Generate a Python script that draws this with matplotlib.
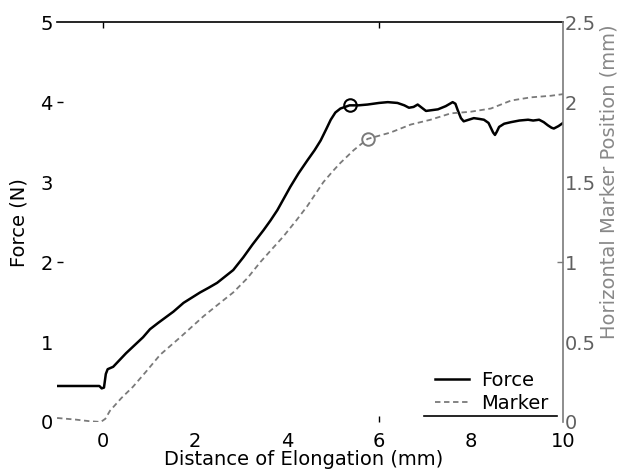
import matplotlib
matplotlib.use("Agg")
import matplotlib.pyplot as plt
import numpy as np

plt.rcParams['font.family'] = ['DejaVu Sans']

# ---- data ----
force_x = [-1.0, -0.3, -0.08, -0.03, 0.02, 0.06, 0.10, 0.22, 0.5, 0.87, 1.02, 1.2, 1.53, 1.75,
           2.11, 2.3, 2.48, 2.83, 3.05, 3.25, 3.49, 3.64, 3.79, 4.07, 4.25, 4.44, 4.6, 4.73,
           4.85, 4.95, 5.05, 5.16, 5.36, 5.55, 5.75, 6.0, 6.19, 6.4, 6.55, 6.65, 6.75, 6.84,
           6.93, 7.02, 7.15, 7.28, 7.45, 7.6, 7.66, 7.71, 7.78, 7.84, 7.95, 8.06, 8.18, 8.28,
           8.38, 8.43, 8.48, 8.52, 8.56, 8.61, 8.72, 8.87, 9.05, 9.24, 9.35, 9.48, 9.58, 9.67,
           9.75, 9.8, 9.9, 10.0]
force_y = [0.45, 0.45, 0.45, 0.42, 0.43, 0.60, 0.66, 0.69, 0.86, 1.06, 1.16, 1.24, 1.38, 1.49,
           1.62, 1.68, 1.74, 1.90, 2.06, 2.22, 2.40, 2.52, 2.65, 2.94, 3.11, 3.27, 3.40, 3.52,
           3.66, 3.78, 3.87, 3.92, 3.96, 3.96, 3.97, 3.99, 4.00, 3.99, 3.96, 3.93, 3.94, 3.97,
           3.93, 3.89, 3.90, 3.91, 3.95, 4.00, 3.98, 3.90, 3.80, 3.76, 3.78, 3.80, 3.79, 3.78,
           3.74, 3.68, 3.62, 3.59, 3.63, 3.69, 3.73, 3.75, 3.77, 3.78, 3.77, 3.78, 3.75, 3.71,
           3.68, 3.67, 3.70, 3.74]

marker_x = [-1.0, -0.6, -0.3, -0.05, 0.05, 0.15, 0.4, 0.65, 0.95, 1.24, 1.68, 2.18, 2.48,
            2.83, 3.14, 3.42, 3.70, 3.92, 4.2, 4.44, 4.79, 5.0, 5.16, 5.45, 5.75, 6.0, 6.25,
            6.69, 7.12, 7.56, 7.99, 8.43, 8.87, 9.3, 9.74, 10.0]
marker_y = [0.025, 0.015, 0.005, 0.0, 0.02, 0.07, 0.15, 0.22, 0.32, 0.42, 0.53, 0.66, 0.73,
            0.81, 0.90, 1.00, 1.09, 1.16, 1.26, 1.35, 1.50, 1.57, 1.62, 1.70, 1.77, 1.79, 1.81,
            1.86, 1.89, 1.93, 1.94, 1.96, 2.01, 2.03, 2.04, 2.05]

force_peak = ([5.36], [3.96])
marker_peak = ([5.75], [1.77])

x_ticks = [0, 2, 4, 6, 8, 10]
force_ticks = [0, 1, 2, 3, 4, 5]
marker_ticks = [0, 0.5, 1, 1.5, 2, 2.5]
marker_tick_labels = ['0', '0.5', '1', '1.5', '2', '2.5']

FS = 14
GRAY = '#7a7a7a'

fig = plt.figure(figsize=(6.27, 4.72), dpi=100)
ax = fig.add_axes([0.091, 0.106, 0.807, 0.847])
ax2 = ax.twinx()

lf, = ax.plot(force_x, force_y, color='black', lw=1.8, label='Force')
ax.plot(*force_peak, 'o', mfc='none', mec='black', ms=9, mew=1.5)
lm, = ax2.plot(marker_x, marker_y, color=GRAY, lw=1.3, dashes=(3, 2), label='Marker')
ax2.plot(*marker_peak, 'o', mfc='none', mec=GRAY, ms=9, mew=1.4)

ax.set_xlim(-1, 10)
ax.set_ylim(0, 5)
ax2.set_ylim(0, 2.5)
ax.set_xticks(x_ticks)
ax.set_yticks(force_ticks)
ax2.set_yticks(marker_ticks)
ax2.set_yticklabels(marker_tick_labels)

for s in ['left', 'bottom', 'right']:
    ax.spines[s].set_visible(False)
ax.spines['top'].set_color('black')
ax.spines['top'].set_linewidth(1.2)
for s in ['left', 'bottom', 'top']:
    ax2.spines[s].set_visible(False)
ax2.spines['right'].set_color(GRAY)
ax2.spines['right'].set_linewidth(1.2)

ax.tick_params(axis='x', direction='in', length=4, width=1, top=True, labelsize=FS, pad=7)
ax.tick_params(axis='y', direction='in', length=4, width=1, labelsize=FS, pad=3)
ax2.tick_params(axis='y', direction='in', length=4, width=1, color=GRAY, labelsize=FS,
                labelcolor='#606060', pad=1)

for v, t in zip(x_ticks, ax.xaxis.get_major_ticks()):
    t.tick1line.set_visible(v == 6)
    t.tick2line.set_visible(v in (0, 6))
for v, t in zip(force_ticks, ax.yaxis.get_major_ticks()):
    t.tick1line.set_visible(v in (2, 4))
for v, t in zip(marker_ticks, ax2.yaxis.get_major_ticks()):
    t.tick2line.set_visible(v == 1)

ax.set_xlabel('Distance of Elongation (mm)', fontsize=FS)
ax.xaxis.set_label_coords(0.487, -0.071)
ax.set_ylabel('Force (N)', fontsize=FS)
ax.yaxis.set_label_coords(-0.056, 0.5)
ax2.set_ylabel('Horizontal Marker Position (mm)', fontsize=FS, color='#888888')
ax2.yaxis.set_label_coords(1.072, 0.6)

leg = ax.legend(handles=[lf, lm], loc='upper left', bbox_to_anchor=(0.747, 0.128),
                frameon=False, borderpad=0, borderaxespad=0, handlelength=1.75,
                handletextpad=0.6, labelspacing=0.2, fontsize=FS)
ax.plot([0.725, 0.988], [0.015, 0.015], color='black', lw=1.2, transform=ax.transAxes,
        clip_on=False)

fig.savefig('out.png', dpi=100)
